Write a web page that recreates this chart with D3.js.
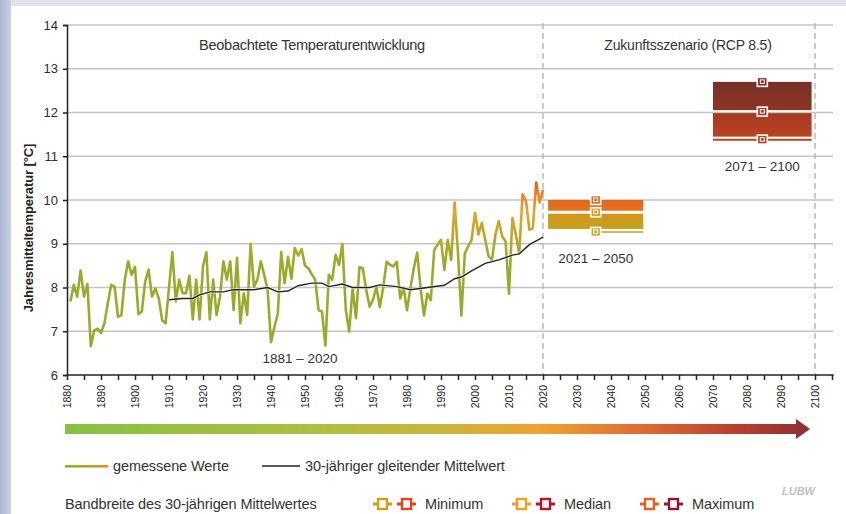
<!DOCTYPE html>
<html><head><meta charset="utf-8">
<script src="https://cdn.jsdelivr.net/npm/d3@7"></script>
<style>
body{margin:0;background:#fff;}
svg{display:block;}
text{font-family:"Liberation Sans",Arial,sans-serif;}
</style>
</head><body>
<svg id="chart" width="846" height="514"></svg>
<script>
// ---------------- data ----------------
const startYear = 1881;
const measured = [
 7.68,8.06,7.79,8.39,7.79,8.08,6.66,7.02,7.06,6.96, // 1881-1890
 7.18,7.64,8.06,8.02,7.33,7.37,8.18,8.60,8.29,8.47, // 1891-1900
 7.39,7.45,8.14,8.41,7.79,7.98,7.75,7.25,7.18,8.00, // 1901-1910
 8.81,7.68,8.18,7.87,7.87,8.27,7.27,8.18,7.27,8.48, // 1911-1920
 8.81,7.27,8.18,7.37,7.79,8.60,8.18,8.60,7.48,8.68, // 1921-1930
 7.18,7.87,7.37,9.00,8.02,8.18,8.60,8.29,7.95,6.75, // 1931-1940
 7.10,7.40,8.81,8.10,8.70,8.20,8.90,8.73,8.88,8.50, // 1941-1950
 8.44,8.30,8.18,7.48,7.45,6.67,8.29,8.18,8.75,8.52, // 1951-1960
 9.00,7.49,6.99,7.98,7.30,8.46,8.44,7.95,7.56,7.72, // 1961-1970
 8.02,7.55,8.00,8.59,8.52,8.48,8.59,7.75,8.00,7.48, // 1971-1980
 7.98,8.44,8.80,7.98,7.36,7.86,7.71,8.86,8.98,9.09, // 1981-1990
 8.40,9.09,8.63,9.94,8.78,7.36,8.78,8.94,9.09,9.71, // 1991-2000
 9.21,9.48,9.09,8.71,8.63,9.21,9.52,9.17,9.05,7.86, // 2001-2010
 9.59,9.21,8.78,10.13,9.98,9.32,9.36,10.40,9.94,10.23 // 2011-2020
];
const meanYears  = [1910,1914,1917,1919,1922,1926,1929,1935,1939,1942,1945,1948,1952,1955,1957,1961,1964,1969,1972,1977,1981,1986,1991,1994,1996,1999,2003,2007,2011,2013,2016,2020];
const meanValues = [7.72,7.75,7.75,7.83,7.90,7.90,7.95,7.95,8.00,7.90,7.92,8.04,8.10,8.10,8.02,8.08,8.00,8.00,8.06,8.02,7.95,8.00,8.05,8.20,8.24,8.38,8.55,8.63,8.74,8.77,8.98,9.15];

const yTicks = [6,7,8,9,10,11,12,13,14];
const xTickLabels = [1880,1890,1900,1910,1920,1930,1940,1950,1960,1970,1980,1990,2000,2010,2020,2030,2040,2050,2060,2070,2080,2090,2100];

const periodLabels = ["2021 – 2050","2071 – 2100"];
const periodStart  = [2021.5, 2070];
const periodEnd    = [2049.5, 2099];
const bandMin      = [9.27, 11.38];
const bandMedian   = [9.72, 12.02];
const bandMax      = [10.0, 12.7];

const headings = ["Beobachtete Temperaturentwicklung","Zukunftsszenario (RCP 8.5)"];
const observedLabel = "1881 – 2020";
const yTitle = "Jahresmitteltemperatur [°C]";
const legendLine = ["gemessene Werte","30-jähriger gleitender Mittelwert"];
const legendBand = "Bandbreite des 30-jährigen Mittelwertes";
const legendStats = ["Minimum","Median","Maximum"];

// ---------------- drawing ----------------
const svg = d3.select("#chart");
const defs = svg.append("defs");

const x = d3.scaleLinear().domain([1880,2100]).range([67,815]);
const y = d3.scaleLinear().domain([6,14]).range([375,25]);

// background frame
const bgL = defs.append("linearGradient").attr("id","bgL").attr("x1",0).attr("x2",1).attr("y1",0).attr("y2",0);
bgL.append("stop").attr("offset",0).attr("stop-color","#a9b7d6");
bgL.append("stop").attr("offset",1).attr("stop-color","#c9d1e4");
svg.append("rect").attr("width",846).attr("height",514).attr("fill","#dfe3ed");
svg.append("rect").attr("x",0).attr("y",0).attr("width",11).attr("height",514).attr("fill","url(#bgL)");
svg.append("rect").attr("x",11).attr("y",6).attr("width",835).attr("height",508).attr("fill","#ffffff");

// gridlines
svg.append("g").selectAll("line").data(yTicks.filter(d=>d>6)).join("line")
  .attr("x1",67).attr("x2",833).attr("y1",d=>y(d)).attr("y2",d=>y(d))
  .attr("stroke","#c4c4c4").attr("stroke-width",1.5);

// dashed separators
svg.append("g").selectAll("line").data([2020,2100]).join("line")
  .attr("x1",d=>x(d)).attr("x2",d=>x(d)).attr("y1",y(14)-2).attr("y2",y(6))
  .attr("stroke","#b0b0b0").attr("stroke-width",1.3).attr("stroke-dasharray","6,4");

// headings
svg.append("text").attr("x",312).attr("y",50).attr("text-anchor","middle")
  .attr("font-size",14.6).attr("fill","#333").attr("letter-spacing",-0.3).text(headings[0]);
svg.append("text").attr("x",688).attr("y",50).attr("text-anchor","middle")
  .attr("font-size",14).attr("fill","#333").attr("letter-spacing",-0.2).text(headings[1]);

// scenario bands
const bandColors = [
  {up:["#e0661c","#e4741e"], lo:["#d4941a","#c4a21c"], thin:"#c9bb55", mk:["#c8ad20","#e09a20","#e06a1e"]},
  {up:["#783026","#8c3524"], lo:["#a43a22","#ba4320"], thin:"#b84322", mk:["#b84322","#9c3a2a","#7a2c28"]}
];
const bandIdx = d3.range(periodLabels.length);
bandIdx.forEach(i=>{
  const c = bandColors[i];
  ["up","lo"].forEach(k=>{
    const g = defs.append("linearGradient").attr("id",`b${i}${k}`).attr("x1",0).attr("x2",0).attr("y1",0).attr("y2",1);
    g.append("stop").attr("offset",0).attr("stop-color",c[k][0]);
    g.append("stop").attr("offset",1).attr("stop-color",c[k][1]);
  });
});
const bands = svg.append("g");
bandIdx.forEach(i=>{
  const x0 = x(periodStart[i]), x1 = x(periodEnd[i]), cx = (x0+x1)/2;
  const c = bandColors[i];
  bands.append("rect").attr("x",x0).attr("width",x1-x0)
    .attr("y",y(bandMax[i])).attr("height",y(bandMedian[i])-1.5-y(bandMax[i]))
    .attr("fill",`url(#b${i}up)`);
  bands.append("rect").attr("x",x0).attr("width",x1-x0)
    .attr("y",y(bandMedian[i])+1.5).attr("height",y(bandMin[i])-3-(y(bandMedian[i])+1.5))
    .attr("fill",`url(#b${i}lo)`);
  bands.append("line").attr("x1",i===0?cx:x0).attr("x2",x1)
    .attr("y1",y(bandMin[i])).attr("y2",y(bandMin[i]))
    .attr("stroke",c.thin).attr("stroke-width",2);
  [bandMin[i],bandMedian[i],bandMax[i]].forEach((v,j)=>{
    bands.append("rect").attr("x",cx-5).attr("y",y(v)-4.5).attr("width",10).attr("height",9)
      .attr("fill",c.mk[j]).attr("stroke","#fff").attr("stroke-width",1.6);
    bands.append("rect").attr("x",cx-2).attr("y",y(v)-2).attr("width",4).attr("height",3.5)
      .attr("fill","none").attr("stroke","#fff").attr("stroke-width",1);
  });
  bands.append("text").attr("x",cx).attr("y",y(bandMin[i])+31).attr("text-anchor","middle")
    .attr("font-size",13.5).attr("fill","#333").text(periodLabels[i]);
});

// measured series with value gradient
const vg = defs.append("linearGradient").attr("id","valGrad").attr("gradientUnits","userSpaceOnUse")
  .attr("x1",0).attr("x2",0).attr("y1",y(8.6)).attr("y2",y(10.45));
[[0,"#9aab2c"],[0.35,"#c0a626"],[0.62,"#e6a22e"],[0.82,"#ea8424"],[1,"#e8561c"]].forEach(s=>
  vg.append("stop").attr("offset",s[0]).attr("stop-color",s[1]));
const series = measured.map((v,i)=>({year:startYear+i, v}));
const line = d3.line().x(d=>x(d.year)).y(d=>y(d.v));
svg.append("path").datum(series).attr("d",line).attr("fill","none")
  .attr("stroke","url(#valGrad)").attr("stroke-width",2.6).attr("stroke-linejoin","round");

// moving mean
const meanData = meanYears.map((yr,i)=>({year:yr, v:meanValues[i]}));
svg.append("path").datum(meanData).attr("d",line).attr("fill","none")
  .attr("stroke","#fff").attr("stroke-width",3).attr("stroke-opacity",0.6);
svg.append("path").datum(meanData).attr("d",line).attr("fill","none")
  .attr("stroke","#222").attr("stroke-width",1.4);

svg.append("text").attr("x",300).attr("y",363).attr("text-anchor","middle")
  .attr("font-size",13.5).attr("fill","#333").text(observedLabel);

// y axis
const yAxis = svg.append("g").attr("transform","translate(67,0)")
  .call(d3.axisLeft(y).tickValues(yTicks).tickSize(4).tickPadding(5).tickFormat(d3.format("d")));
yAxis.select(".domain").attr("stroke","#222").attr("stroke-width",1.5);
yAxis.selectAll(".tick line").attr("stroke","#222").attr("stroke-width",1.5);
yAxis.selectAll("text").attr("font-size",13).attr("fill","#2a2a45").attr("font-family","Liberation Sans, Arial, sans-serif");

// x axis
const xAxis = svg.append("g").attr("transform",`translate(0,${y(6)})`)
  .call(d3.axisBottom(x).tickValues(d3.range(1880,2106,5)).tickSize(5).tickFormat(""));
xAxis.select(".domain").remove();
xAxis.selectAll(".tick line").attr("stroke","#222").attr("stroke-width",1.5);
xAxis.append("line").attr("x1",67).attr("x2",x(2105.5)).attr("y1",0).attr("y2",0)
  .attr("stroke","#222").attr("stroke-width",1.5);
svg.append("g").selectAll("text").data(xTickLabels).join("text")
  .attr("transform",d=>`translate(${x(d)},385) rotate(-90)`)
  .attr("text-anchor","end").attr("dy","0.35em")
  .attr("font-size",10.5).attr("fill","#222").text(d=>d);

// y title
svg.append("text").attr("transform","translate(28,228) rotate(-90)").attr("text-anchor","middle")
  .attr("dy","0.35em").attr("font-size",13).attr("fill","#222").attr("font-weight","bold")
  .attr("letter-spacing",-0.1).text(yTitle);

// gradient arrow
const ag = defs.append("linearGradient").attr("id","arrowGrad").attr("gradientUnits","userSpaceOnUse")
  .attr("x1",65).attr("x2",810).attr("y1",0).attr("y2",0);
[[0,"#88c044"],[0.3,"#a8bf40"],[0.5,"#c9b63c"],[0.64,"#eea232"],[0.78,"#dc6a32"],[0.9,"#b8402e"],[1,"#8c2f30"]].forEach(s=>
  ag.append("stop").attr("offset",s[0]).attr("stop-color",s[1]));
svg.append("path").attr("d","M65,424 L796,424 L796,419 L810,429 L796,439 L796,434 L65,434 Z")
  .attr("fill","url(#arrowGrad)");

// legend
const lg = defs.append("linearGradient").attr("id","legGrad").attr("x1",0).attr("x2",1).attr("y1",0).attr("y2",0);
lg.append("stop").attr("offset",0).attr("stop-color","#9aab2c");
lg.append("stop").attr("offset",0.6).attr("stop-color","#b4a42a");
lg.append("stop").attr("offset",1).attr("stop-color","#e88a24");
svg.append("rect").attr("x",65).attr("y",465).attr("width",43).attr("height",2.6).attr("fill","url(#legGrad)");
svg.append("text").attr("x",113).attr("y",471).attr("font-size",14.5).attr("fill","#333").attr("letter-spacing",-0.1).text(legendLine[0]);
svg.append("line").attr("x1",262).attr("x2",300).attr("y1",466).attr("y2",466).attr("stroke","#222").attr("stroke-width",1.6);
svg.append("text").attr("x",305).attr("y",471).attr("font-size",14.5).attr("fill","#333").attr("letter-spacing",-0.1).text(legendLine[1]);

svg.append("text").attr("x",65).attr("y",509).attr("font-size",14.5).attr("fill","#333").attr("letter-spacing",-0.1).text(legendBand);
const symColors = [["#c8a012","#e2421c"],["#f0a020","#b0182e"],["#e8601e","#8a1a38"]];
const symX = [373,512,640];
legendStats.forEach((s,i)=>{
  symColors[i].forEach((col,j)=>{
    const sx = symX[i] + j*24;
    svg.append("line").attr("x1",sx).attr("x2",sx+19).attr("y1",504).attr("y2",504).attr("stroke",col).attr("stroke-width",3);
    svg.append("rect").attr("x",sx+5).attr("y",499).attr("width",9).attr("height",10).attr("fill","#fff").attr("stroke",col).attr("stroke-width",2.4);
  });
  svg.append("text").attr("x",symX[i]+52).attr("y",509).attr("font-size",14.5).attr("fill","#333").attr("letter-spacing",-0.1).text(s);
});
svg.append("text").attr("x",782).attr("y",495).attr("font-size",11).attr("font-weight","bold")
  .attr("font-style","italic").attr("fill","#c0c0c0").text("LUBW");
</script>
</body></html>
